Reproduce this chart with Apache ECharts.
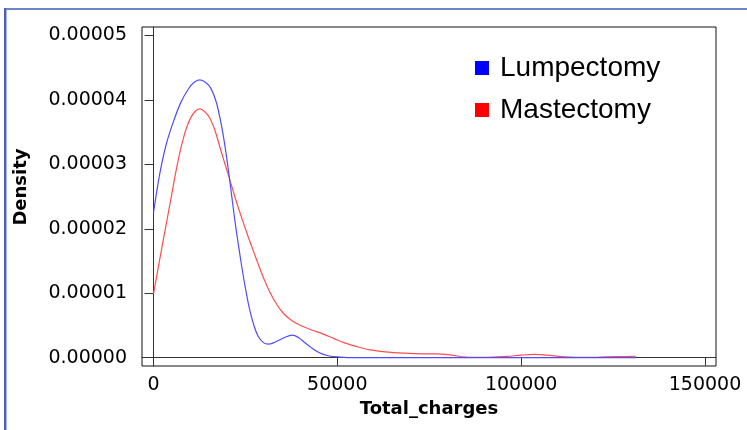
<!DOCTYPE html>
<html>
<head>
<meta charset="utf-8">
<script src="https://cdn.jsdelivr.net/npm/echarts@6/dist/echarts.min.js"></script>
<style>
html,body{margin:0;padding:0;background:#fff;}
#c{width:747px;height:430px;}
</style>
</head>
<body>
<div id="c"></div>
<script>
// Lumpectomy density curve (x = total charges, y = density)
var lumpX = [0, 1000, 2000, 3500, 5400, 7500, 9500, 11000, 12600, 14200, 15600, 17000, 18300, 19400, 20400, 21300, 22200, 23100, 24100, 25100, 26100, 27200, 28500, 30000, 31200, 33000, 35500, 37800, 39500, 41000, 42800, 45000, 47500, 50500, 55000, 65000, 80000, 100000, 120000, 131300];
var lumpY = [0.0000225, 0.0000262, 0.0000294, 0.0000332, 0.0000366, 0.0000397, 0.0000417, 0.0000427, 0.0000431, 0.0000427, 0.0000418, 0.0000398, 0.0000366, 0.0000330, 0.0000290, 0.0000250, 0.0000210, 0.0000175, 0.0000138, 0.0000105, 0.0000076, 0.0000052, 0.0000033, 0.0000023, 0.0000021, 0.0000024, 0.0000031, 0.0000035, 0.0000031, 0.0000024, 0.0000016, 0.0000008, 0.0000003, 0.0000001, 0.0000000, 0.0000000, 0.0000000, 0.0000000, 0.0000000, 0.0000000];
// Mastectomy density curve
var mastX = [0, 1300, 2600, 3750, 5000, 6200, 7400, 8700, 10000, 11300, 12600, 13900, 15300, 16700, 18000, 19200, 20400, 21700, 23000, 24400, 25800, 27200, 28700, 30200, 31800, 33500, 35300, 37500, 40000, 43000, 46000, 49000, 52000, 55500, 59000, 63000, 68000, 73000, 77000, 81000, 85000, 90000, 96000, 100000, 103500, 107000, 111000, 115000, 121000, 126000, 131300];
var mastY = [0.0000099, 0.0000140, 0.0000181, 0.0000216, 0.0000255, 0.0000292, 0.0000324, 0.0000352, 0.0000371, 0.0000382, 0.0000386, 0.0000382, 0.0000372, 0.0000353, 0.0000328, 0.0000305, 0.0000283, 0.0000258, 0.0000234, 0.0000210, 0.0000187, 0.0000165, 0.0000142, 0.0000120, 0.0000100, 0.0000083, 0.0000069, 0.0000058, 0.0000050, 0.0000043, 0.0000037, 0.0000030, 0.0000023, 0.0000017, 0.0000012, 0.0000009, 0.0000007, 0.0000006, 0.0000006, 0.0000004, 0.0000001, 0.00000005, 0.0000002, 0.0000004, 0.0000005, 0.0000004, 0.00000015, 0.00000005, 0.00000008, 0.00000015, 0.00000022];
var seriesNames = ['Lumpectomy', 'Mastectomy'];
var xTicks = [0, 50000, 100000, 150000];
var yTicks = [0, 0.00001, 0.00002, 0.00003, 0.00004, 0.00005];

function zip(xs, ys) { return xs.map(function (x, i) { return [x, ys[i]]; }); }

var chart = echarts.init(document.getElementById('c'));
var axisColor = '#333';
var tickFont = 'DejaVu Sans';
chart.setOption({
  animation: false,
  backgroundColor: '#fff',
  grid: {left: 142, right: 31, top: 27, bottom: 64, show: true, borderColor: '#111', borderWidth: 1, backgroundColor: 'transparent'},
  legend: {
    data: seriesNames, orient: 'vertical', left: 475, top: 54, icon: 'rect',
    itemWidth: 14, itemHeight: 14, itemGap: 14, padding: 0,
    textStyle: {fontFamily: 'Liberation Sans', fontSize: 28, color: '#000', padding: [0, 0, 0, 6]}
  },
  xAxis: {
    type: 'value', min: -3128, max: 153000,
    name: 'Total_charges', nameLocation: 'middle', nameGap: 30,
    nameTextStyle: {fontFamily: tickFont, fontWeight: 'bold', fontSize: 18, color: '#000'},
    axisLine: {show: true, lineStyle: {color: axisColor}},
    axisTick: {show: true, length: 8, customValues: xTicks, lineStyle: {color: axisColor}},
    axisLabel: {customValues: xTicks, margin: 10, fontFamily: tickFont, fontSize: 19, color: '#000',
      formatter: function (v) { return String(Math.round(v)); }},
    splitLine: {show: false}
  },
  yAxis: {
    type: 'value', min: -0.00000129, max: 0.00005132,
    name: 'Density', nameLocation: 'middle', nameGap: 112, nameRotate: 90,
    nameTextStyle: {fontFamily: tickFont, fontWeight: 'bold', fontSize: 18, color: '#000', padding: [0, 0, 0, 19]},
    axisLine: {show: true, lineStyle: {color: axisColor}},
    axisTick: {show: true, length: 9, customValues: yTicks, lineStyle: {color: axisColor}},
    axisLabel: {customValues: yTicks, margin: 15, fontFamily: tickFont, fontSize: 19, color: '#000',
      formatter: function (v) { return v.toFixed(5); }},
    splitLine: {show: false}
  },
  graphic: [
    {type: 'line', shape: {x1: 4, y1: 9, x2: 747, y2: 9}, style: {stroke: '#6d84c8', lineWidth: 2}, silent: true},
    {type: 'line', shape: {x1: 5, y1: 8, x2: 5, y2: 430}, style: {stroke: '#4a63b5', lineWidth: 2}, silent: true},
    {type: 'line', shape: {x1: 6.5, y1: 10, x2: 6.5, y2: 430}, style: {stroke: '#aab6e2', lineWidth: 1}, silent: true}
  ],
  series: [
    {name: seriesNames[0], type: 'line', data: zip(lumpX, lumpY), smooth: 0.35, showSymbol: false,
      itemStyle: {color: '#0000ff'}, lineStyle: {color: '#4d4dff', width: 1.2}, z: 3},
    {name: seriesNames[1], type: 'line', data: zip(mastX, mastY), smooth: 0.35, showSymbol: false,
      itemStyle: {color: '#ff0000'}, lineStyle: {color: '#ff4d4d', width: 1.2}, z: 2}
  ]
});
</script>
</body>
</html>
